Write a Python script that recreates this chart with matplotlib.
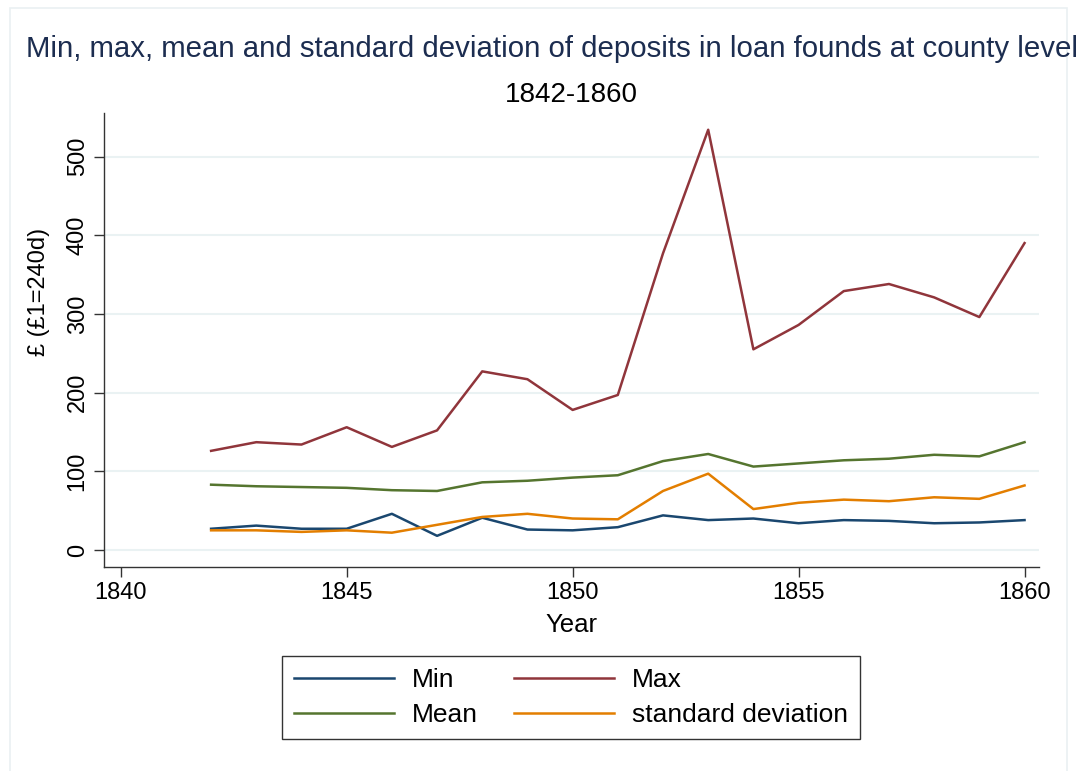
import matplotlib
matplotlib.use("Agg")
import matplotlib.pyplot as plt
from matplotlib.patches import Rectangle

plt.rcParams['font.family'] = ['Liberation Sans', 'DejaVu Sans']

years = list(range(1842, 1861))
min_dep = [27, 31, 27, 27, 46, 18, 41, 26, 25, 29, 44, 38, 40, 34, 38, 37, 34, 35, 38]
max_dep = [126, 137, 134, 156, 131, 152, 227, 217, 178, 197, 377, 534, 255, 286, 329, 338, 321, 296, 390]
mean_dep = [83, 81, 80, 79, 76, 75, 86, 88, 92, 95, 113, 122, 106, 110, 114, 116, 121, 119, 137]
sd_dep = [25, 25, 23, 25, 22, 32, 42, 46, 40, 39, 75, 97, 52, 60, 64, 62, 67, 65, 82]

series = [
    ("Min", min_dep, "#1a476f"),
    ("Max", max_dep, "#90353b"),
    ("Mean", mean_dep, "#55752f"),
    ("standard deviation", sd_dep, "#e37e00"),
]

W, H = 1083, 771
fig = plt.figure(figsize=(W / 100, H / 100), dpi=100)
fig.patch.set_facecolor("white")

# light outer frame like the Stata graph region
fig.patches.append(Rectangle((10 / W, -0.01), (1067 - 10) / W, 1 - 8 / H + 0.01,
                             transform=fig.transFigure, fill=False,
                             edgecolor="#eaf0f2", linewidth=1.2))

ax = fig.add_axes([104 / W, 1 - 567 / H, (1039 - 104) / W, (567 - 113) / H])

lines = {}
for label, vals, color in series:
    lines[label], = ax.plot(years, vals, color=color, linewidth=1.8, label=label)

ax.set_xlim(1839.63, 1860.32)
ax.set_ylim(-21.6, 555.3)
ax.set_xticks([1840, 1845, 1850, 1855, 1860])
ax.set_yticks([0, 100, 200, 300, 400, 500])
ax.grid(axis="y", color="#eaf2f3", linewidth=1.5)
ax.set_axisbelow(True)
for s in ["top", "right"]:
    ax.spines[s].set_visible(False)
for s in ["left", "bottom"]:
    ax.spines[s].set_color("#333333")
    ax.spines[s].set_linewidth(1.0)
ax.tick_params(axis="both", length=7, width=1, color="#333333", labelsize=17, pad=4)
for t in ax.get_yticklabels():
    t.set_rotation(90)
    t.set_va("center")

fig.text(552 / W, 1 - 49 / H, "Min, max, mean and standard deviation of deposits in loan founds at county level",
         ha="center", va="center", fontsize=21.2, color="#1c2d50")
fig.text(571 / W, 1 - 95 / H, "1842-1860", ha="center", va="center", fontsize=20, color="black")
fig.text(571 / W, 1 - 625 / H, "Year", ha="center", va="center", fontsize=18.5)
fig.text(39 / W, 1 - 292 / H, "£ (£1=240d)", ha="center", va="center", rotation=90, fontsize=17)

# column-wise fill: Min, Mean | Max, standard deviation
order = ["Min", "Mean", "Max", "standard deviation"]
leg = fig.legend([lines[k] for k in order], order, loc="center",
                 bbox_to_anchor=(571 / W, 1 - 697.5 / H), ncol=2,
                 fontsize=19, handlelength=3.8, handletextpad=0.68, columnspacing=1.36,
                 labelspacing=0.4, borderpad=0.45, frameon=True, fancybox=False)
leg.get_frame().set_edgecolor("black")
leg.get_frame().set_linewidth(1.0)

fig.savefig("out.png", dpi=100)
